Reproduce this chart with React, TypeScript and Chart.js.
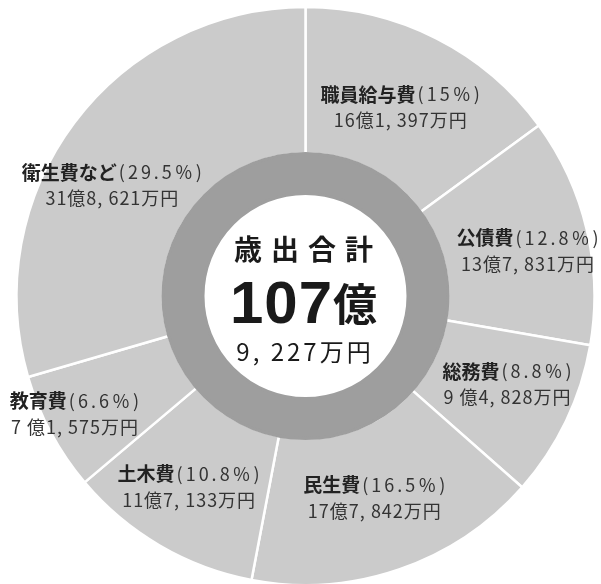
import React, { useEffect, useRef } from 'react';
import { Chart, registerables } from 'chart.js';

Chart.register(...registerables);

// ---- data ----
const categories = ['職員給与費', '公債費', '総務費', '民生費', '土木費', '教育費', '衛生費など'];
const percentLabels = ['15％', '12.8％', '8.8％', '16.5％', '10.8％', '6.6％', '29.5％'];
const amountLabels = [
  '16億1, 397万円',
  '13億7, 831万円',
  '9 億4, 828万円',
  '17億7, 842万円',
  '11億7, 133万円',
  '7 億1, 575万円',
  '31億8, 621万円',
];
// amounts in 万円
const amounts = [161397, 137831, 94828, 177842, 117133, 71575, 318621];
const totalTitle = '歳出合計';
const totalMain = '107';
const totalUnit = '億';
const totalRest = '9, 227万円';

// ---- layout (label nudges from slice centroid, px) ----
const labelNudges: [number, number][] = [
  [-3, 4],
  [12, 4],
  [7, -5],
  [-1, -2],
  [-8, 5],
  [-41, 16],
  [-21, 19],
];

const JP = '"Noto Sans CJK JP", "Noto Sans", sans-serif';

const labelPlugin = {
  id: 'sliceLabels',
  afterDraw(chart: any) {
    const ctx: CanvasRenderingContext2D = chart.ctx;
    const meta = chart.getDatasetMeta(0);
    ctx.save();
    ctx.textBaseline = 'middle';
    meta.data.forEach((arc: any, i: number) => {
      const p = arc.getCenterPoint();
      const cx = p.x + labelNudges[i][0];
      const cy = p.y + labelNudges[i][1];
      // line 1
      ctx.letterSpacing = '0px';
      ctx.font = `bold 19px ${JP}`;
      const nameW = ctx.measureText(categories[i]).width + 2;
      const pct = `(${percentLabels[i]})`;
      ctx.font = `18px ${JP}`;
      ctx.letterSpacing = '3px';
      const pctW = ctx.measureText(pct).width - 3;
      const x0 = cx - (nameW + pctW) / 2;
      ctx.textAlign = 'left';
      ctx.letterSpacing = '0px';
      ctx.font = `bold 19px ${JP}`;
      ctx.fillStyle = '#222222';
      ctx.fillText(categories[i], x0, cy - 13);
      ctx.font = `18px ${JP}`;
      ctx.letterSpacing = '3px';
      ctx.fillStyle = '#333333';
      ctx.fillText(pct, x0 + nameW, cy - 13);
      // line 2
      ctx.letterSpacing = '1px';
      const amtW = ctx.measureText(amountLabels[i]).width - 1;
      ctx.fillText(amountLabels[i], cx - amtW / 2, cy + 13);
    });

    // center text
    const first = meta.data[0];
    const ccx = first.x - 2;
    const ccy = first.y;
    ctx.fillStyle = '#1a1a1a';
    ctx.textAlign = 'left';
    ctx.textBaseline = 'middle';
    ctx.font = `bold 28px ${JP}`;
    ctx.letterSpacing = '9px';
    let w = ctx.measureText(totalTitle).width - 9;
    ctx.fillText(totalTitle, ccx - w / 2, ccy - 47);

    ctx.letterSpacing = '1px';
    ctx.textBaseline = 'alphabetic';
    ctx.font = `bold 60px "Liberation Sans", Arial, sans-serif`;
    const w1 = ctx.measureText(totalMain).width;
    ctx.letterSpacing = '0px';
    ctx.font = `bold 44px ${JP}`;
    const w2 = ctx.measureText(totalUnit).width;
    const sx = ccx - (w1 + w2) / 2;
    ctx.letterSpacing = '1px';
    ctx.font = `bold 60px "Liberation Sans", Arial, sans-serif`;
    ctx.fillText(totalMain, sx, ccy + 27);
    ctx.letterSpacing = '0px';
    ctx.font = `bold 44px ${JP}`;
    ctx.fillText(totalUnit, sx + w1, ccy + 25);

    ctx.textBaseline = 'middle';
    ctx.font = `24px ${JP}`;
    ctx.letterSpacing = '3px';
    w = ctx.measureText(totalRest).width - 3;
    ctx.fillText(totalRest, ccx - w / 2, ccy + 56);
    ctx.restore();
  },
};

export default function App() {
  const ref = useRef<HTMLCanvasElement>(null);
  useEffect(() => {
    const total = amounts.reduce((a, b) => a + b, 0);
    const chart = new Chart(ref.current as HTMLCanvasElement, {
      type: 'doughnut',
      data: {
        labels: categories,
        datasets: [
          {
            data: amounts,
            backgroundColor: '#cbcbcb',
            borderColor: '#ffffff',
            borderWidth: 2.5,
            weight: 3.6625,
            order: 1,
            clip: false,
          } as any,
          {
            data: [total],
            backgroundColor: '#9e9e9e',
            borderColor: '#9e9e9e',
            borderWidth: 3,
            weight: 1,
            order: 0,
            clip: false,
          } as any,
        ],
      },
      options: {
        responsive: false,
        animation: false,
        events: [],
        radius: 289,
        cutout: '35.467%',
        rotation: 0,
        layout: { padding: { left: 10, top: 8, right: 0, bottom: 0 } },
        plugins: { legend: { display: false }, tooltip: { enabled: false } },
      } as any,
      plugins: [labelPlugin as any],
    });
    return () => chart.destroy();
  }, []);
  return (
    <div style={{ position: 'absolute', left: 0, top: 0, width: 601, height: 584, background: '#ffffff', overflow: 'hidden' }}>
      <canvas ref={ref} width={601} height={584} style={{ display: 'block' }} />
    </div>
  );
}
